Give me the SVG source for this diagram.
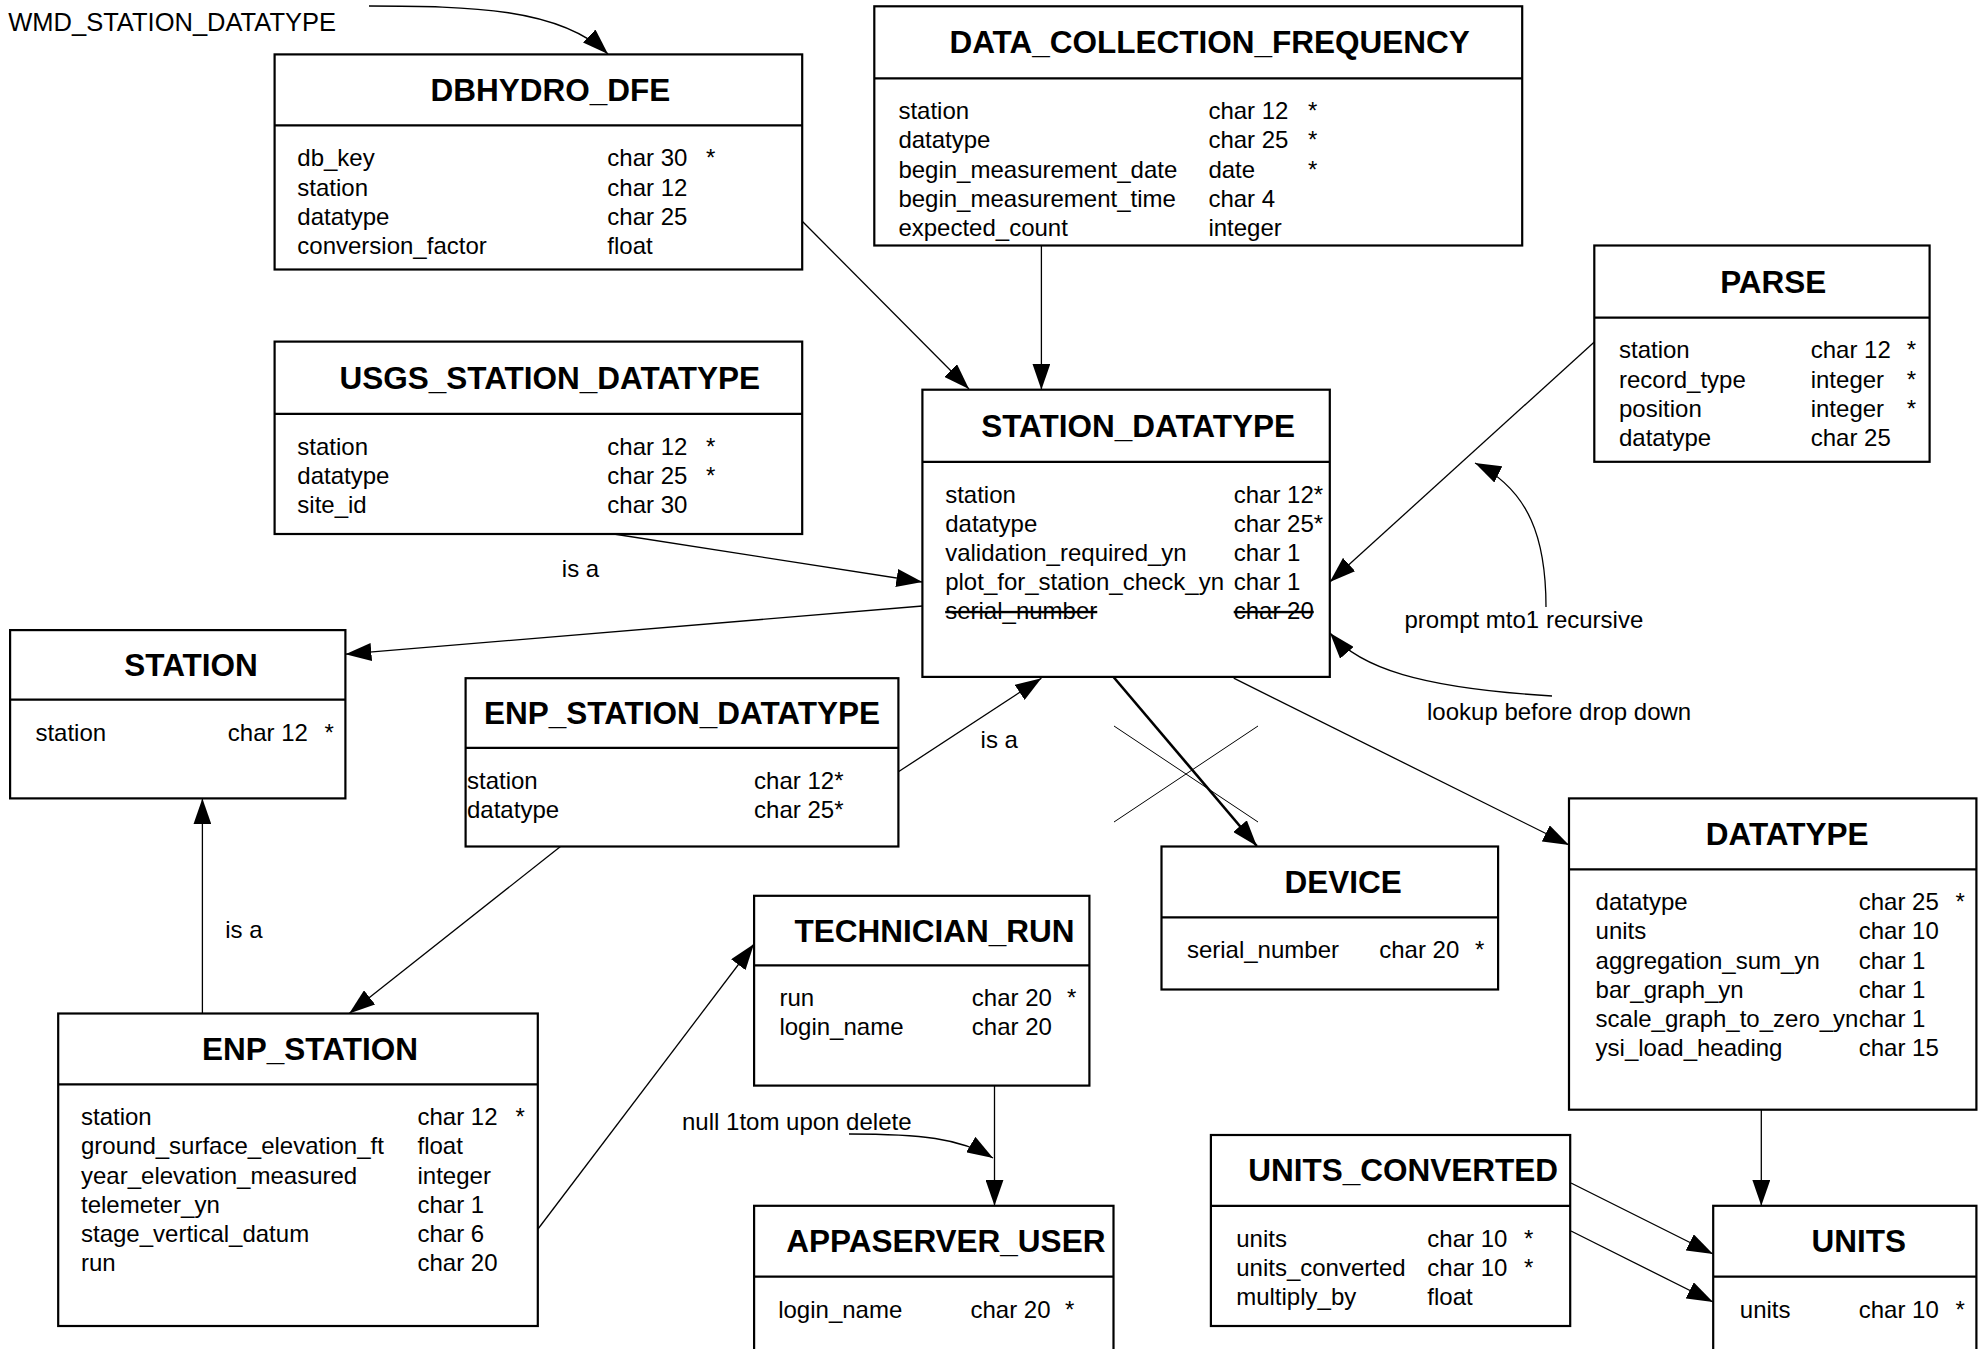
<svg xmlns="http://www.w3.org/2000/svg" width="1984" height="1349" viewBox="0 0 1984 1349">
<style>
text{font-family:"Liberation Sans",Arial,Helvetica,sans-serif;font-size:24px;fill:#000}
.h{font-weight:bold;font-size:31.5px;text-anchor:middle}
.box{fill:#fff;stroke:#000;stroke-width:2.2}
.div{stroke:#000;stroke-width:2.2}
.c{fill:none;stroke:#000;stroke-width:1.3}
.ck{fill:none;stroke:#000;stroke-width:2.6}
.x{fill:none;stroke:#000;stroke-width:1}
.s{text-decoration:line-through}
</style>
<defs>
<marker id="a" markerUnits="userSpaceOnUse" viewBox="0 0 26 18" refX="26" refY="9" markerWidth="26" markerHeight="18" orient="auto">
<path d="M0,0 L26,9 L0,18 z" fill="#000"/>
</marker>
</defs>
<rect width="1984" height="1349" fill="#fff"/>

<g id="connectors">
<text x="336" y="31" text-anchor="end" style="font-size:25.5px">WMD_STATION_DATATYPE</text>
<path class="c" d="M369 6 C470 6,560 8,608 54" marker-end="url(#a)"/>
<path class="c" d="M802 221 L969 389" marker-end="url(#a)"/>
<path class="c" d="M1041.4 245.5 L1041.4 389.7" marker-end="url(#a)"/>
<path class="c" d="M1594.3 342 L1329.8 582" marker-end="url(#a)"/>
<path class="c" d="M1546 607 C1546 540,1530 490,1475 463" marker-end="url(#a)"/>
<text x="1404.5" y="628">prompt mto1 recursive</text>
<path class="c" d="M1552 696 C1420 688,1360 668,1330 633" marker-end="url(#a)"/>
<text x="1427" y="720">lookup before drop down</text>
<path class="c" d="M613.7 534 L922.4 582" marker-end="url(#a)"/>
<text x="561.8" y="577">is a</text>
<path class="c" d="M922.4 606 L345.4 654.2" marker-end="url(#a)"/>
<path class="c" d="M898.4 771.8 L1041.4 678.2" marker-end="url(#a)"/>
<text x="980.6" y="748">is a</text>
<path class="c" d="M560.5 846.5 L349.2 1013.5" marker-end="url(#a)"/>
<path class="c" d="M202.4 1013.5 L202.4 798.4" marker-end="url(#a)"/>
<text x="225.2" y="938">is a</text>
<path class="c" d="M538 1229 L754 944" marker-end="url(#a)"/>
<path class="c" d="M994.5 1085.6 L994.5 1205.8" marker-end="url(#a)"/>
<path class="c" d="M849 1134 C920 1134,960 1138,993 1158" marker-end="url(#a)"/>
<text x="682" y="1130">null 1tom upon delete</text>
<path class="ck" d="M1113.5 677 L1256.8 846" marker-end="url(#a)"/>
<path class="x" d="M1114 726 L1258 822 M1258 726 L1114 822"/>
<path class="c" d="M1233.7 678.2 L1569 845" marker-end="url(#a)"/>
<path class="c" d="M1761.3 1109.7 L1761.3 1205.8" marker-end="url(#a)"/>
<path class="c" d="M1571 1183 L1713 1254" marker-end="url(#a)"/>
<path class="c" d="M1571 1231 L1713 1302" marker-end="url(#a)"/>
</g>

<g id="DBHYDRO_DFE">
<rect class="box" x="274.6" y="54.4" width="527.6" height="215.1"/>
<line class="div" x1="274.6" y1="125.3" x2="802.2" y2="125.3"/>
<text class="h" x="550.4" y="100.8">DBHYDRO_DFE</text>
<text x="297.3" y="166.3">db_key</text><text x="607.3" y="166.3">char 30</text><text x="706" y="166.3">*</text>
<text x="297.3" y="195.5">station</text><text x="607.3" y="195.5">char 12</text>
<text x="297.3" y="224.7">datatype</text><text x="607.3" y="224.7">char 25</text>
<text x="297.3" y="253.9">conversion_factor</text><text x="607.3" y="253.9">float</text>
</g>

<g id="DATA_COLLECTION_FREQUENCY">
<rect class="box" x="874.3" y="6.3" width="647.9" height="239.2"/>
<line class="div" x1="874.3" y1="78.4" x2="1522.2" y2="78.4"/>
<text class="h" x="1209.6" y="53.4">DATA_COLLECTION_FREQUENCY</text>
<text x="898.4" y="119.2">station</text><text x="1208.4" y="119.2">char 12</text><text x="1308" y="119.2">*</text>
<text x="898.4" y="148.4">datatype</text><text x="1208.4" y="148.4">char 25</text><text x="1308" y="148.4">*</text>
<text x="898.4" y="177.6">begin_measurement_date</text><text x="1208.4" y="177.6">date</text><text x="1308" y="177.6">*</text>
<text x="898.4" y="206.8">begin_measurement_time</text><text x="1208.4" y="206.8">char 4</text>
<text x="898.4" y="236">expected_count</text><text x="1208.4" y="236">integer</text>
</g>

<g id="PARSE">
<rect class="box" x="1594.3" y="245.5" width="335.3" height="216.3"/>
<line class="div" x1="1594.3" y1="317.6" x2="1929.6" y2="317.6"/>
<text class="h" x="1773.3" y="292.5">PARSE</text>
<text x="1619" y="358.4">station</text><text x="1810.7" y="358.4">char 12</text><text x="1906.7" y="358.4">*</text>
<text x="1619" y="387.6">record_type</text><text x="1810.7" y="387.6">integer</text><text x="1906.7" y="387.6">*</text>
<text x="1619" y="416.8">position</text><text x="1810.7" y="416.8">integer</text><text x="1906.7" y="416.8">*</text>
<text x="1619" y="446">datatype</text><text x="1810.7" y="446">char 25</text>
</g>

<g id="USGS_STATION_DATATYPE">
<rect class="box" x="274.6" y="341.6" width="527.6" height="192.4"/>
<line class="div" x1="274.6" y1="413.8" x2="802.2" y2="413.8"/>
<text class="h" x="549.8" y="388.7">USGS_STATION_DATATYPE</text>
<text x="297.3" y="454.6">station</text><text x="607.3" y="454.6">char 12</text><text x="706" y="454.6">*</text>
<text x="297.3" y="483.8">datatype</text><text x="607.3" y="483.8">char 25</text><text x="706" y="483.8">*</text>
<text x="297.3" y="513">site_id</text><text x="607.3" y="513">char 30</text>
</g>

<g id="STATION_DATATYPE">
<rect class="box" x="922.4" y="389.7" width="407.4" height="287.2"/>
<line class="div" x1="922.4" y1="461.8" x2="1329.8" y2="461.8"/>
<text class="h" x="1138.1" y="436.8">STATION_DATATYPE</text>
<text x="945.2" y="502.6">station</text><text x="1233.7" y="502.6">char 12*</text>
<text x="945.2" y="531.8">datatype</text><text x="1233.7" y="531.8">char 25*</text>
<text x="945.2" y="561">validation_required_yn</text><text x="1233.7" y="561">char 1</text>
<text x="945.2" y="590.2">plot_for_station_check_yn</text><text x="1233.7" y="590.2">char 1</text>
<text class="s" x="945.2" y="619.4">serial_number</text><text class="s" x="1233.7" y="619.4">char 20</text>
</g>

<g id="STATION">
<rect class="box" x="10.1" y="630.1" width="335.3" height="168.3"/>
<line class="div" x1="10.1" y1="699.7" x2="345.4" y2="699.7"/>
<text class="h" x="191.1" y="675.9">STATION</text>
<text x="35.4" y="740.5">station</text><text x="227.8" y="740.5">char 12</text><text x="324.5" y="740.5">*</text>
</g>

<g id="ENP_STATION_DATATYPE">
<rect class="box" x="465.6" y="678.2" width="432.8" height="168.3"/>
<line class="div" x1="465.6" y1="747.8" x2="898.4" y2="747.8"/>
<text class="h" x="682" y="724">ENP_STATION_DATATYPE</text>
<text x="467" y="788.6">station</text><text x="754.1" y="788.6">char 12*</text>
<text x="467" y="817.8">datatype</text><text x="754.1" y="817.8">char 25*</text>
</g>

<g id="ENP_STATION">
<rect class="box" x="58.2" y="1013.5" width="479.6" height="312.5"/>
<line class="div" x1="58.2" y1="1084.4" x2="537.8" y2="1084.4"/>
<text class="h" x="310" y="1060">ENP_STATION</text>
<text x="81" y="1125.2">station</text><text x="417.5" y="1125.2">char 12</text><text x="515.5" y="1125.2">*</text>
<text x="81" y="1154.4">ground_surface_elevation_ft</text><text x="417.5" y="1154.4">float</text>
<text x="81" y="1183.6">year_elevation_measured</text><text x="417.5" y="1183.6">integer</text>
<text x="81" y="1212.8">telemeter_yn</text><text x="417.5" y="1212.8">char 1</text>
<text x="81" y="1242">stage_vertical_datum</text><text x="417.5" y="1242">char 6</text>
<text x="81" y="1271.2">run</text><text x="417.5" y="1271.2">char 20</text>
</g>

<g id="TECHNICIAN_RUN">
<rect class="box" x="754.1" y="895.8" width="335.3" height="189.8"/>
<line class="div" x1="754.1" y1="965.4" x2="1089.4" y2="965.4"/>
<text class="h" x="934.4" y="941.6">TECHNICIAN_RUN</text>
<text x="779.4" y="1006.2">run</text><text x="971.8" y="1006.2">char 20</text><text x="1067" y="1006.2">*</text>
<text x="779.4" y="1035.4">login_name</text><text x="971.8" y="1035.4">char 20</text>
</g>

<g id="APPASERVER_USER">
<rect class="box" x="754.1" y="1205.8" width="359.4" height="170"/>
<line class="div" x1="754.1" y1="1276.7" x2="1113.5" y2="1276.7"/>
<text class="h" x="945.8" y="1252.3">APPASERVER_USER</text>
<text x="778.2" y="1317.5">login_name</text><text x="970.5" y="1317.5">char 20</text><text x="1065" y="1317.5">*</text>
</g>

<g id="DEVICE">
<rect class="box" x="1161.5" y="846.5" width="336.6" height="143"/>
<line class="div" x1="1161.5" y1="917.3" x2="1498.1" y2="917.3"/>
<text class="h" x="1343.1" y="892.9">DEVICE</text>
<text x="1186.9" y="958.1">serial_number</text><text x="1379.2" y="958.1">char 20</text><text x="1475" y="958.1">*</text>
</g>

<g id="DATATYPE">
<rect class="box" x="1569" y="798.4" width="407.4" height="311.3"/>
<line class="div" x1="1569" y1="869.3" x2="1976.4" y2="869.3"/>
<text class="h" x="1787.2" y="844.9">DATATYPE</text>
<text x="1595.6" y="910.1">datatype</text><text x="1858.7" y="910.1">char 25</text><text x="1955.5" y="910.1">*</text>
<text x="1595.6" y="939.3">units</text><text x="1858.7" y="939.3">char 10</text>
<text x="1595.6" y="968.5">aggregation_sum_yn</text><text x="1858.7" y="968.5">char 1</text>
<text x="1595.6" y="997.7">bar_graph_yn</text><text x="1858.7" y="997.7">char 1</text>
<text x="1595.6" y="1026.9">scale_graph_to_zero_yn</text><text x="1858.7" y="1026.9">char 1</text>
<text x="1595.6" y="1056.1">ysi_load_heading</text><text x="1858.7" y="1056.1">char 15</text>
</g>

<g id="UNITS_CONVERTED">
<rect class="box" x="1210.9" y="1135" width="359.3" height="191"/>
<line class="div" x1="1210.9" y1="1205.8" x2="1570.2" y2="1205.8"/>
<text class="h" x="1403.2" y="1181.4">UNITS_CONVERTED</text>
<text x="1236.2" y="1246.6">units</text><text x="1427.3" y="1246.6">char 10</text><text x="1524" y="1246.6">*</text>
<text x="1236.2" y="1275.8">units_converted</text><text x="1427.3" y="1275.8">char 10</text><text x="1524" y="1275.8">*</text>
<text x="1236.2" y="1305">multiply_by</text><text x="1427.3" y="1305">float</text>
</g>

<g id="UNITS">
<rect class="box" x="1713.2" y="1205.8" width="263.2" height="170"/>
<line class="div" x1="1713.2" y1="1276.7" x2="1976.4" y2="1276.7"/>
<text class="h" x="1858.7" y="1252.3">UNITS</text>
<text x="1739.8" y="1317.5">units</text><text x="1858.7" y="1317.5">char 10</text><text x="1955.5" y="1317.5">*</text>
</g>
</svg>
